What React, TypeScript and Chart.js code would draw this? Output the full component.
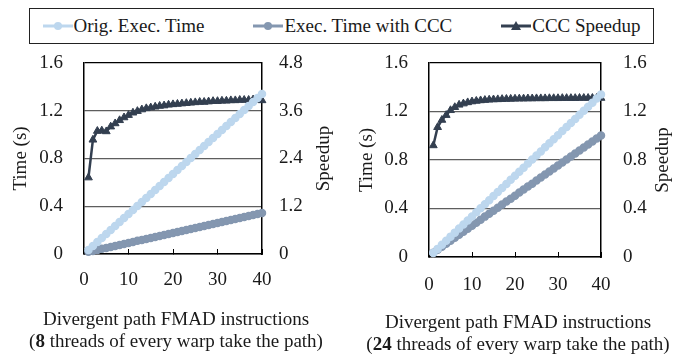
import React, { useEffect, useRef } from "react";
import { Chart, registerables } from "chart.js";

Chart.register(...registerables);

// ---------------- data ----------------
const xValues = [
  1, 2, 3, 4, 5, 6, 7, 8, 9, 10, 11, 12, 13, 14, 15, 16, 17, 18, 19, 20,
  21, 22, 23, 24, 25, 26, 27, 28, 29, 30, 31, 32, 33, 34, 35, 36, 37, 38, 39, 40,
];

const origTime = [
  0.034, 0.067, 0.101, 0.134, 0.168, 0.201, 0.235, 0.268, 0.302, 0.335,
  0.369, 0.402, 0.436, 0.469, 0.503, 0.536, 0.57, 0.603, 0.637, 0.67,
  0.704, 0.737, 0.771, 0.804, 0.838, 0.871, 0.905, 0.938, 0.972, 1.005,
  1.039, 1.072, 1.106, 1.139, 1.173, 1.206, 1.24, 1.273, 1.307, 1.34,
];

const cccTime8 = [
  0.018, 0.026, 0.034, 0.043, 0.051, 0.059, 0.068, 0.076, 0.084, 0.093,
  0.101, 0.11, 0.118, 0.126, 0.135, 0.143, 0.151, 0.16, 0.168, 0.176,
  0.185, 0.193, 0.201, 0.21, 0.218, 0.226, 0.235, 0.243, 0.251, 0.26,
  0.268, 0.276, 0.285, 0.293, 0.301, 0.31, 0.318, 0.326, 0.335, 0.343,
];

const speedup8 = [
  1.92, 2.87, 3.09, 3.1, 3.08, 3.2, 3.28, 3.36, 3.43, 3.49,
  3.55, 3.59, 3.63, 3.66, 3.68, 3.7, 3.72, 3.73, 3.75, 3.76,
  3.77, 3.78, 3.79, 3.8, 3.81, 3.82, 3.82, 3.83, 3.84, 3.84,
  3.85, 3.85, 3.86, 3.86, 3.87, 3.87, 3.87, 3.88, 3.88, 3.86,
];

const cccTime24 = [
  0.035, 0.06, 0.085, 0.109, 0.134, 0.159, 0.184, 0.209, 0.233, 0.258,
  0.283, 0.308, 0.333, 0.357, 0.382, 0.407, 0.432, 0.457, 0.481, 0.506,
  0.531, 0.556, 0.581, 0.605, 0.63, 0.655, 0.68, 0.705, 0.729, 0.754,
  0.779, 0.804, 0.829, 0.853, 0.878, 0.903, 0.928, 0.953, 0.977, 1.002,
];

const speedup24 = [
  0.92, 1.07, 1.13, 1.17, 1.21, 1.235, 1.255, 1.265, 1.275, 1.282,
  1.287, 1.291, 1.294, 1.297, 1.299, 1.3, 1.302, 1.303, 1.304, 1.305,
  1.306, 1.306, 1.307, 1.307, 1.308, 1.308, 1.308, 1.309, 1.309, 1.309,
  1.31, 1.31, 1.31, 1.31, 1.311, 1.311, 1.311, 1.311, 1.311, 1.311,
];

const xTicks = [0, 10, 20, 30, 40];
const timeTicks = [0, 0.4, 0.8, 1.2, 1.6];
const speedupTicks8 = [0, 1.2, 2.4, 3.6, 4.8];
const speedupTicks24 = [0, 0.4, 0.8, 1.2, 1.6];

const seriesLabels = ["Orig. Exec. Time", "Exec. Time with CCC", "CCC Speedup"];
const timeTitle = "Time (s)";
const speedupTitle = "Speedup";
const xTitle = "Divergent path FMAD instructions";
const threadCounts = ["8", "24"];

// ---------------- styles ----------------
const FAMILY = '"Liberation Serif", "Times New Roman", serif';
const TEXT = "#1a1a1a";
const ORIG_COLOR = "#BDD7EE";
const CCC_COLOR = "#8497B0";
const SPEED_COLOR = "#333F50";
const GRID_COLOR = "#5e5e5e";
const FONT = { family: FAMILY, size: 19 };

type PanelSpec = {
  ccc: number[];
  speedup: number[];
  speedTicks: number[];
  threads: string;
  yWidth: number;
  y1Width: number;
  xHeight: number;
  xPad: number;
  y1Pad: number;
  yTitlePad: number;
};

const titlesPlugin = {
  id: "panelTitles",
  afterDraw(chart: any, _args: any, opts: any) {
    const { ctx, chartArea } = chart;
    const midY = (chartArea.top + chartArea.bottom) / 2;
    // right axis title, rotated bottom-to-top
    ctx.save();
    ctx.fillStyle = TEXT;
    ctx.font = `19px ${FAMILY}`;
    ctx.textAlign = "center";
    ctx.textBaseline = "middle";
    ctx.translate(chartArea.right + 62, midY);
    ctx.rotate(-Math.PI / 2);
    ctx.fillText(opts.rightTitle, 0, 0);
    ctx.restore();

    // x axis title, two lines, second with bold number
    const cx = (chartArea.left + chartArea.right) / 2 + 3;
    ctx.save();
    ctx.fillStyle = TEXT;
    ctx.textBaseline = "middle";
    ctx.textAlign = "center";
    ctx.font = `19px ${FAMILY}`;
    ctx.fillText(opts.xTitle, cx, chartArea.bottom + 66);
    const parts = [
      { t: "(", b: false },
      { t: opts.threads, b: true },
      { t: " threads of every warp take the path)", b: false },
    ];
    let total = 0;
    const widths = parts.map((p) => {
      ctx.font = `${p.b ? "bold " : ""}19px ${FAMILY}`;
      const w = ctx.measureText(p.t).width;
      total += w;
      return w;
    });
    let x = cx - total / 2;
    ctx.textAlign = "left";
    parts.forEach((p, i) => {
      ctx.font = `${p.b ? "bold " : ""}19px ${FAMILY}`;
      ctx.fillText(p.t, x, chartArea.bottom + 88);
      x += widths[i];
    });
    ctx.restore();
  },
};

function setTicks(values: number[]) {
  return (scale: any) => {
    scale.ticks = values.map((v) => ({ value: v }));
  };
}

function makeConfig(p: PanelSpec): any {
  const pts = (arr: number[]) => xValues.map((x, i) => ({ x, y: arr[i] }));
  const speedMax = p.speedTicks[p.speedTicks.length - 1];
  return {
    type: "line",
    data: {
      datasets: [
        {
          label: seriesLabels[0],
          data: pts(origTime),
          yAxisID: "y",
          borderColor: ORIG_COLOR,
          backgroundColor: ORIG_COLOR,
          borderWidth: 3,
          pointRadius: 3.5,
          pointBorderWidth: 1.5,
          pointStyle: "circle",
          clip: false,
        },
        {
          label: seriesLabels[1],
          data: pts(p.ccc),
          yAxisID: "y",
          borderColor: CCC_COLOR,
          backgroundColor: CCC_COLOR,
          borderWidth: 3,
          pointRadius: 3.5,
          pointBorderWidth: 1.5,
          pointStyle: "circle",
          clip: false,
        },
        {
          label: seriesLabels[2],
          data: pts(p.speedup),
          yAxisID: "y1",
          borderColor: SPEED_COLOR,
          backgroundColor: SPEED_COLOR,
          borderWidth: 2.5,
          pointRadius: 4.5,
          pointBorderWidth: 1,
          pointStyle: "triangle",
          clip: false,
        },
      ],
    },
    options: {
      animation: false,
      responsive: false,
      devicePixelRatio: 1,
      events: [],
      layout: { padding: { top: 63, left: 0, right: 0, bottom: 0 } },
      plugins: {
        legend: { display: false },
        tooltip: { enabled: false },
        panelTitles: { rightTitle: speedupTitle, xTitle, threads: p.threads },
      },
      scales: {
        x: {
          type: "linear",
          min: 0,
          max: 40,
          afterBuildTicks: setTicks(xTicks),
          afterFit: (s: any) => {
            s.height = p.xHeight;
          },
          grid: {
            drawOnChartArea: false,
            drawTicks: true,
            tickLength: -5,
            color: "#000",
            lineWidth: 1,
          },
          border: { color: "#000", width: 1.5 },
          ticks: { font: FONT, color: TEXT, padding: p.xPad, maxRotation: 0 },
        },
        y: {
          type: "linear",
          position: "left",
          min: 0,
          max: 1.6,
          afterBuildTicks: setTicks(timeTicks),
          afterFit: (s: any) => {
            s.width = p.yWidth;
          },
          grid: {
            drawTicks: false,
            color: (c: any) => (c.tick && c.tick.value >= 1.6 ? "#000" : GRID_COLOR),
            lineWidth: 1.3,
          },
          border: { color: "#000", width: 1.5 },
          ticks: { font: FONT, color: TEXT, padding: 21 },
          title: {
            display: true,
            text: timeTitle,
            font: FONT,
            color: TEXT,
            padding: { top: p.yTitlePad, bottom: 0 },
          },
        },
        y1: {
          type: "linear",
          position: "right",
          min: 0,
          max: speedMax,
          afterBuildTicks: setTicks(p.speedTicks),
          afterFit: (s: any) => {
            s.width = p.y1Width;
          },
          grid: { drawOnChartArea: false, drawTicks: false },
          border: { color: "#000", width: 1.5 },
          ticks: { font: FONT, color: TEXT, padding: p.y1Pad },
        },
      },
    },
    plugins: [titlesPlugin],
  };
}

const panels: PanelSpec[] = [
  {
    ccc: cccTime8,
    speedup: speedup8,
    speedTicks: speedupTicks8,
    threads: threadCounts[0],
    yWidth: 84,
    y1Width: 81,
    xHeight: 102,
    xPad: 19.6,
    y1Pad: 17,
    yTitlePad: 9.6,
  },
  {
    ccc: cccTime24,
    speedup: speedup24,
    speedTicks: speedupTicks24,
    threads: threadCounts[1],
    yWidth: 86,
    y1Width: 85,
    xHeight: 99,
    xPad: 21.6,
    y1Pad: 22,
    yTitlePad: 12.6,
  },
];

function Panel({ spec, left }: { spec: PanelSpec; left: number }) {
  const ref = useRef<HTMLCanvasElement | null>(null);
  useEffect(() => {
    if (!ref.current) return;
    const chart = new Chart(ref.current, makeConfig(spec));
    return () => chart.destroy();
  }, [spec]);
  return (
    <canvas
      ref={ref}
      width={343}
      height={356}
      style={{ position: "absolute", left, top: 0, width: 343, height: 356, display: "block" }}
    />
  );
}

function LegendMarker({ color, shape }: { color: string; shape: "circle" | "triangle" }) {
  return (
    <svg width={30} height={14} style={{ display: "block" }}>
      <line x1={0} y1={7} x2={30} y2={7} stroke={color} strokeWidth={3} />
      {shape === "circle" ? (
        <circle cx={15} cy={7} r={4} fill={color} />
      ) : (
        <polygon points="15,2 20,11 10,11" fill={color} />
      )}
    </svg>
  );
}

export default function App() {
  const legendItems = [
    { label: seriesLabels[0], color: ORIG_COLOR, shape: "circle" as const },
    { label: seriesLabels[1], color: CCC_COLOR, shape: "circle" as const },
    { label: seriesLabels[2], color: SPEED_COLOR, shape: "triangle" as const },
  ];
  return (
    <div
      style={{
        position: "fixed",
        left: 0,
        top: 0,
        width: 686,
        height: 356,
        background: "#fff",
        overflow: "hidden",
      }}
    >
      <Panel spec={panels[0]} left={0} />
      <Panel spec={panels[1]} left={343} />
      <div
        style={{
          position: "absolute",
          left: 29,
          top: 8,
          width: 625,
          height: 36,
          boxSizing: "border-box",
          border: "1.5px solid #222",
          display: "flex",
          alignItems: "center",
          justifyContent: "center",
          gap: 49,
          fontFamily: FAMILY,
          fontSize: 19,
          color: TEXT,
          background: "#fff",
        }}
      >
        {legendItems.map((it) => (
          <span key={it.label} style={{ display: "flex", alignItems: "center", whiteSpace: "nowrap" }}>
            <LegendMarker color={it.color} shape={it.shape} />
            <span style={{ marginLeft: 1 }}>{it.label}</span>
          </span>
        ))}
      </div>
    </div>
  );
}
